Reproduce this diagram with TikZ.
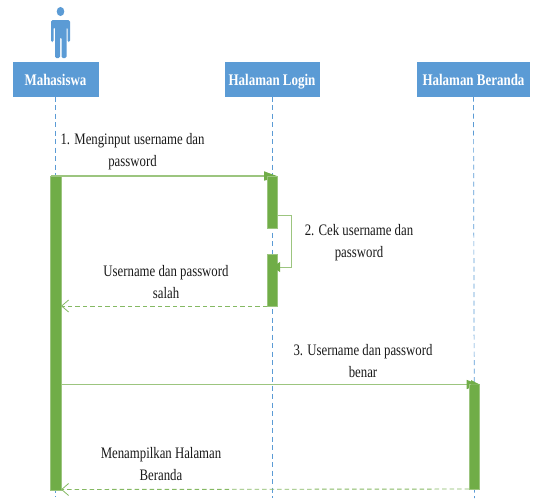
\documentclass[tikz,border=0pt]{standalone}
\usepackage{fontspec}
\setmainfont[FakeStretch=0.8]{Liberation Serif}
\usetikzlibrary{arrows.meta,calc}
\definecolor{hdrblue}{HTML}{5B9BD5}
\definecolor{actgreen}{HTML}{70AD47}
\definecolor{msggreen}{HTML}{9CC57F}
\tikzset{
 x=1pt,y=-1pt,
 every node/.style={inner sep=0pt,outer sep=0pt},
 head/.style={fill=hdrblue,minimum height=35pt,text height=13pt,text depth=0pt,text=white,font=\fontsize{16.2}{18}\selectfont\bfseries,anchor=north west},
 life/.style={hdrblue,dashed,dash pattern=on 5pt off 3.5pt,line width=.7pt},
 act/.style={fill=actgreen,draw=msggreen,line width=.5pt,minimum width=10.5pt,anchor=north west},
 msg/.style={msggreen,line width=1.5pt},
 ret/.style={actgreen!85,line width=.9pt,dashed,dash pattern=on 4.5pt off 3pt,-{Straight Barb[length=7pt,width=12pt,line width=.8pt]}},
 filledtip/.style={-{Triangle[length=13pt,width=9pt,fill=actgreen,color=actgreen]},shorten >=0pt},
 lab/.style={align=center,font=\fontsize{16}{22}\selectfont,text=black!90},
}
\begin{document}
\begin{tikzpicture}
\useasboundingbox (0,0) rectangle (536,499);
% actor
\fill[hdrblue] (60.5,11.5) ellipse (3.8pt and 4.6pt);
\fill[hdrblue,rounded corners=1.5pt] (51,20) -- (70,20) -- (70,42) -- (67.5,42) -- (67.5,27) -- (66.5,27) -- (66.5,58) -- (61.5,58) -- (61.5,37) -- (60,37) -- (60,58) -- (55,58) -- (55,27) -- (53.5,27) -- (53.5,42) -- (51,42) -- cycle;
% headers
\node[head,minimum width=86pt] (m) at (12.5,61.5) {Mahasiswa};
\node[head,minimum width=95pt] (l) at (224.5,61.5) {Halaman Login};
\node[head,minimum width=113pt] (b) at (417,61.5) {Halaman Beranda};
% lifeline ends
\coordinate (mend) at (55.5,497);
\coordinate (lend) at (272,498);
\coordinate (bend) at (474.5,498);
\coordinate (m3start) at (61,384.5);
\coordinate (r1end) at (61,306);
\coordinate (r2end) at (61,489.5);
\draw[life] (m.south) -- (mend);
\draw[life] (l.south) -- (lend);
\draw[life] (b.south) -- (bend);
% messages
\draw[msg,filledtip] (51,176) -- (277,176);
\draw[msg,filledtip] (m3start) -- (479.5,384.5);
% activations
\node[act,minimum height=314pt] (am) at (50.5,176) {};
\node[act,minimum height=52pt] (al1) at (267,176) {};
\node[act,minimum height=52pt] (al2) at (267,254) {};
\node[act,minimum height=105pt] (ab) at (469,384) {};
\fill[actgreen] (264,171.5) -- (267,173.5) -- (267,180) -- (264,180) -- cycle;
\fill[actgreen] (471,380) -- (479.5,384.5) -- (471,384.5) -- cycle;
\draw[msggreen,line width=.9pt,-{Triangle[length=7pt,width=10pt,fill=actgreen,color=actgreen]}] (al1.east |- 0,215) -- (291.5,215) -- (291.5,267) -- (273,267);
\draw[ret] (al2.south west) -- (r1end);
\draw[ret] (ab.south west) -- (r2end);
% labels
\node[lab] (t1) at (132.5,152) {1. Menginput username dan\\password};
\node[lab] (t2) at (359,242.5) {2. Cek username dan\\password};
\node[lab] (t3) at (166,282.5) {Username dan password\\salah};
\node[lab] (t4) at (363,361.5) {3. Username dan password\\benar};
\node[lab] (t5) at (161,464) {Menampilkan Halaman\\Beranda};
\end{tikzpicture}
\end{document}
